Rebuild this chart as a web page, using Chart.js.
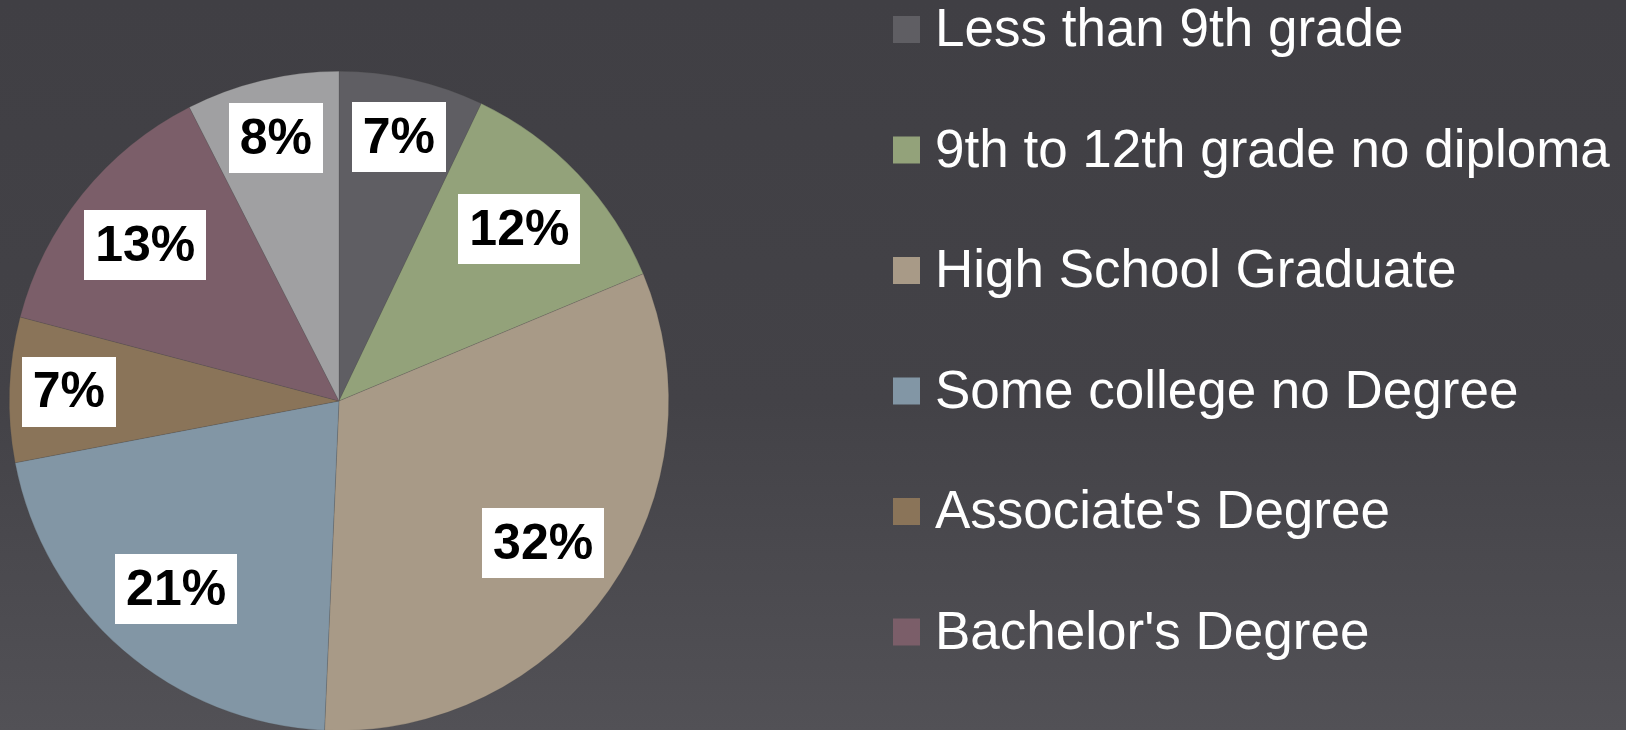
<!DOCTYPE html>
<html>
<head>
<meta charset="utf-8">
<script src="https://cdn.jsdelivr.net/npm/chart.js@4/dist/chart.umd.min.js"></script>
<style>
  html, body { margin: 0; padding: 0; }
  body {
    width: 1626px; height: 730px; overflow: hidden;
    background: linear-gradient(to bottom, #403f44 0%, #434247 55%, #525156 100%);
  }
  #wrap { width: 1626px; height: 800px; }
</style>
</head>
<body>
<div id="wrap"><canvas id="eduPie" width="1626" height="800"></canvas></div>
<script>
// education level shares (percent)
const categories = [
  "Less than 9th grade",
  "9th to 12th grade no diploma",
  "High School Graduate",
  "Some college no Degree",
  "Associate's Degree",
  "Bachelor's Degree",
  "Graduate or Professional Degree",
];
const shares = [7.1, 11.6, 32.0, 21.3, 7.1, 13.4, 7.5];
const sliceColors = [
  "#5f5e63", "#93a27a", "#a89a87", "#8296a5", "#8a7459", "#7b5e69", "#a0a0a2",
];

const FONT = "'Liberation Sans', Arial, sans-serif";

// white boxed percentage labels inside the slices
const boxLabels = {
  id: "boxLabels",
  afterDatasetsDraw(chart) {
    const ctx = chart.ctx;
    const meta = chart.getDatasetMeta(0);
    const vals = chart.data.datasets[0].data;
    ctx.save();
    ctx.font = "bold 50px " + FONT;
    ctx.textAlign = "center";
    ctx.textBaseline = "middle";
    meta.data.forEach((arc, i) => {
      const p = arc.getProps(["x", "y", "startAngle", "endAngle", "outerRadius"], true);
      const mid = (p.startAngle + p.endAngle) / 2;
      const frac = vals[i] < 10 ? 0.82 : 0.755;
      const cx = p.x + Math.cos(mid) * p.outerRadius * frac;
      const cy = p.y + Math.sin(mid) * p.outerRadius * frac;
      const txt = Math.round(vals[i]) + "%";
      const w = ctx.measureText(txt).width + 22;
      const h = 70;
      ctx.fillStyle = "#ffffff";
      ctx.fillRect(Math.round(cx - w / 2), Math.round(cy - h / 2), Math.round(w), h);
      ctx.fillStyle = "#000000";
      ctx.fillText(txt, cx, cy + 2);
    });
    ctx.restore();
  },
};

// legend drawn on the right, one row per category
const sideLegend = {
  id: "sideLegend",
  afterDraw(chart) {
    const ctx = chart.ctx;
    const ds = chart.data.datasets[0];
    ctx.save();
    ctx.font = "53px " + FONT;
    ctx.textAlign = "left";
    ctx.textBaseline = "alphabetic";
    chart.data.labels.forEach((lab, i) => {
      const y = 46 + i * 120.5;
      ctx.fillStyle = ds.backgroundColor[i];
      ctx.fillRect(893, y - 30, 27, 27);
      ctx.fillStyle = "#ffffff";
      ctx.fillText(lab, 935, y);
    });
    ctx.restore();
  },
};

new Chart(document.getElementById("eduPie"), {
  type: "pie",
  data: {
    labels: categories,
    datasets: [{
      data: shares,
      backgroundColor: sliceColors,
      borderColor: "rgba(70,70,70,0.35)",
      borderWidth: 0.6,
    }],
  },
  options: {
    responsive: false,
    animation: false,
    layout: { padding: { left: 9, top: 71, right: 957, bottom: 69 } },
    plugins: {
      legend: { display: false },
      tooltip: { enabled: false },
    },
  },
  plugins: [boxLabels, sideLegend],
});
</script>
</body>
</html>
